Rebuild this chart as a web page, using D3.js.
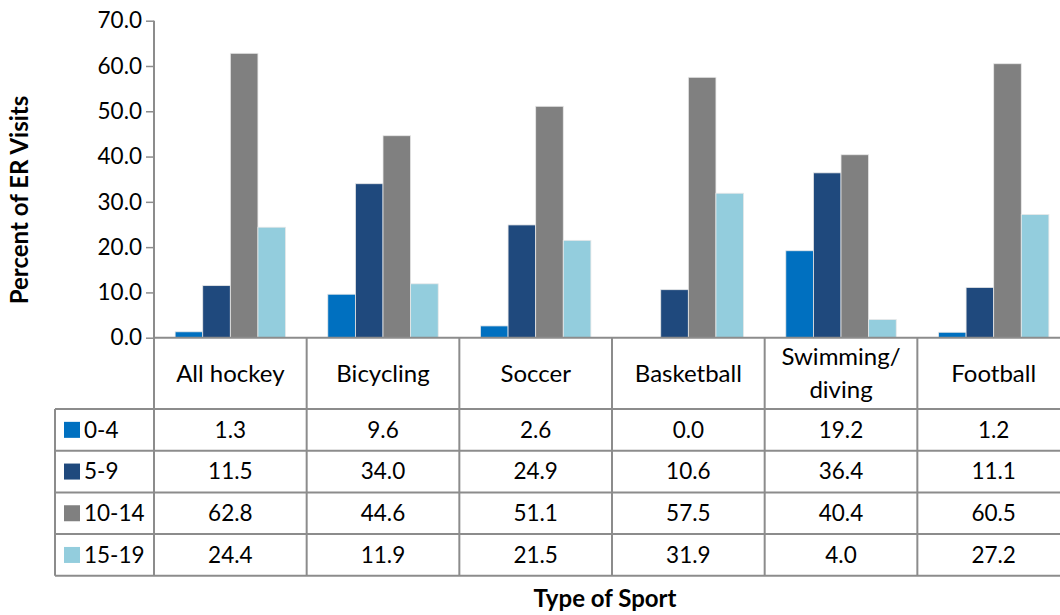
<!DOCTYPE html>
<html><head><meta charset="utf-8">
<script src="https://cdn.jsdelivr.net/npm/d3@7"></script>
<style>body{margin:0;background:#fff}svg{display:block}text{font-family:Lato,"Open Sans",sans-serif;fill:#000}</style>
</head><body><svg id="c" width="1060" height="615"></svg>
<script>
const categories = ["All hockey","Bicycling","Soccer","Basketball","Swimming/\ndiving","Football"];
const seriesNames = ["0-4","5-9","10-14","15-19"];
const v0_4 = [1.3,9.6,2.6,0.0,19.2,1.2];
const v5_9 = [11.5,34.0,24.9,10.6,36.4,11.1];
const v10_14 = [62.8,44.6,51.1,57.5,40.4,60.5];
const v15_19 = [24.4,11.9,21.5,31.9,4.0,27.2];
const yTicks = [0,10,20,30,40,50,60,70];
const colors = ["#0070C0","#1F497D","#808080","#93CDDD"];
const series = [v0_4,v5_9,v10_14,v15_19];

(function(){
const svg = d3.select("#c");
const mLeft = 154, colW = 152.67, mTop = 20.7, mBottom = 337.7;
const numSize = 22.5, wordSize = 24;
const x = d3.scaleBand().domain(categories).range([mLeft, mLeft + colW*categories.length]).paddingInner(0).paddingOuter(0);
const y = d3.scaleLinear().domain([0,70]).range([mBottom, mTop]);
const x1 = d3.scaleBand().domain(seriesNames).range([0, x.bandwidth()]).paddingOuter(0.765).paddingInner(0);
const gridCol = "#8c8c8c";

// bars
series.forEach((vals,si)=>{
  svg.append("g").selectAll("rect").data(vals).join("rect")
    .attr("x",(d,i)=>x(categories[i])+x1(seriesNames[si]))
    .attr("y",d=>y(d))
    .attr("width",x1.bandwidth())
    .attr("height",d=>Math.max(0,y(0)-y(d)))
    .attr("fill",colors[si])
    .attr("stroke",d=>d>0?"#e8e8e8":"none").attr("stroke-width",0.8);
});

// y axis
const yAxis = d3.axisLeft(y).tickValues(yTicks).tickFormat(d3.format(".1f")).tickSize(8).tickSizeOuter(0);
const gy = svg.append("g").attr("transform",`translate(${mLeft},0)`).call(yAxis);
gy.select(".domain").remove();
gy.selectAll(".tick line").attr("stroke",gridCol).attr("stroke-width",1.5);
gy.selectAll(".tick text").attr("font-size",numSize).attr("x",-12).attr("font-family","Lato,sans-serif").attr("fill","#000");

// table
const rowH = 41.7, headTop = mBottom, headH = 71.3;
const tableTop = headTop + headH;
const lineG = svg.append("g").attr("stroke",gridCol).attr("stroke-width",2).attr("fill","none");
const mRight = mLeft + colW*categories.length;
lineG.append("line").attr("x1",mLeft).attr("x2",mRight).attr("y1",mBottom).attr("y2",mBottom);
d3.range(categories.length+1).forEach(i=>{
  const xx = mLeft + colW*i;
  lineG.append("line").attr("x1",xx).attr("x2",xx).attr("y1", i===0?mTop:mBottom).attr("y2",tableTop+rowH*4);
});
d3.range(5).forEach(r=>{
  lineG.append("line").attr("x1",55).attr("x2",mRight).attr("y1",tableTop+rowH*r).attr("y2",tableTop+rowH*r);
});
lineG.append("line").attr("x1",55).attr("x2",55).attr("y1",tableTop).attr("y2",tableTop+rowH*4);

// header labels
categories.forEach(c=>{
  const lines = c.split("\n");
  const cx = x(c)+x.bandwidth()/2;
  const cy = headTop + headH/2;
  lines.forEach((ln,li)=>{
    svg.append("text").attr("x",cx).attr("y",cy + (li-(lines.length-1)/2)*33).attr("dy","0.35em")
      .attr("text-anchor","middle").attr("font-size",wordSize).text(ln);
  });
});

// rows
series.forEach((vals,si)=>{
  const cy = tableTop + rowH*si + rowH/2;
  svg.append("rect").attr("x",64).attr("y",cy-8).attr("width",16).attr("height",16).attr("fill",colors[si]);
  svg.append("text").attr("x",84).attr("y",cy).attr("dy","0.35em").attr("font-size",numSize).text(seriesNames[si]);
  vals.forEach((d,i)=>{
    svg.append("text").attr("x",x(categories[i])+x.bandwidth()/2).attr("y",cy).attr("dy","0.35em")
      .attr("text-anchor","middle").attr("font-size",numSize).text(d3.format(".1f")(d));
  });
});

// titles
svg.append("text").attr("transform","translate(20,200) rotate(-90)").attr("dy","0.35em")
  .attr("text-anchor","middle").attr("font-size",wordSize).attr("font-weight","bold").text("Percent of ER Visits");
svg.append("text").attr("x",605).attr("y",599).attr("dy","0.35em")
  .attr("text-anchor","middle").attr("font-size",wordSize).attr("font-weight","bold").text("Type of Sport");
})();
</script></body></html>
